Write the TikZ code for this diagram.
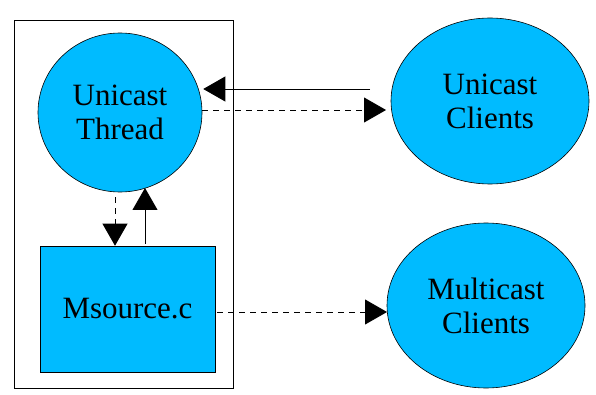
\documentclass[tikz,border=0pt]{standalone}
\usepackage{fontspec}
\setmainfont{Liberation Serif}
\newfontfamily\diagfont{Liberation Serif}
\usetikzlibrary{arrows.meta,shapes.geometric}
\definecolor{fillblue}{RGB}{0,187,255}
\begin{document}
\begin{tikzpicture}[x=1pt,y=-1pt,
  blob/.style={ellipse,draw=black,line width=0.6pt,fill=fillblue,inner sep=0pt,align=center,font=\diagfont\fontsize{31}{34}\selectfont},
  box/.style={rectangle,draw=black,line width=0.6pt,fill=fillblue,inner sep=0pt,align=center,font=\diagfont\fontsize{31}{34}\selectfont},
  tipped/.style={-{Triangle[length=22pt,width=25pt]}},
  conn/.style={line width=0.8pt,draw=black},
  dconn/.style={conn,dash pattern=on 6pt off 5pt}]
\useasboundingbox (0,0) rectangle (596,395);
\node[draw=black,line width=0.8pt,minimum width=219pt,minimum height=368pt,inner sep=0pt] (frame) at (123.5,204) {};
\node[blob,minimum width=164pt,minimum height=159pt] (ut) at (120,112.5) {Unicast\\Thread};
\node[box,minimum width=175pt,minimum height=126pt] (ms) at (127.5,309) {Msource.c};
\node[blob,minimum width=198pt,minimum height=166pt] (uc) at (490,101) {Unicast\\Clients};
\node[blob,minimum width=198pt,minimum height=165pt] (mc) at (486,305.5) {Multicast\\Clients};
% top solid arrow: from unicast clients to unicast thread
\coordinate (a1s) at (370,89);
\draw[conn,tipped,shorten >=1pt] (a1s) -- (a1s -| ut.east);
% dashed arrow: unicast thread to unicast clients
\coordinate (a2e) at (386,110);
\draw[dconn,tipped] (ut.east |- a2e) -- (a2e);
% vertical dashed: thread to msource
\draw[dconn,tipped] (ut.south -| 115,0) ++(0,5) -- (ms.north -| 115,0);
% vertical solid: msource to thread
\draw[conn,tipped] (ms.north -| 145,0) ++(0,-2) -- (145,188);
% msource to multicast clients
\coordinate (a5e) at (387,312);
\draw[dconn,tipped] (ms.east |- a5e) ++(2,0) -- (a5e);
\end{tikzpicture}
\end{document}
